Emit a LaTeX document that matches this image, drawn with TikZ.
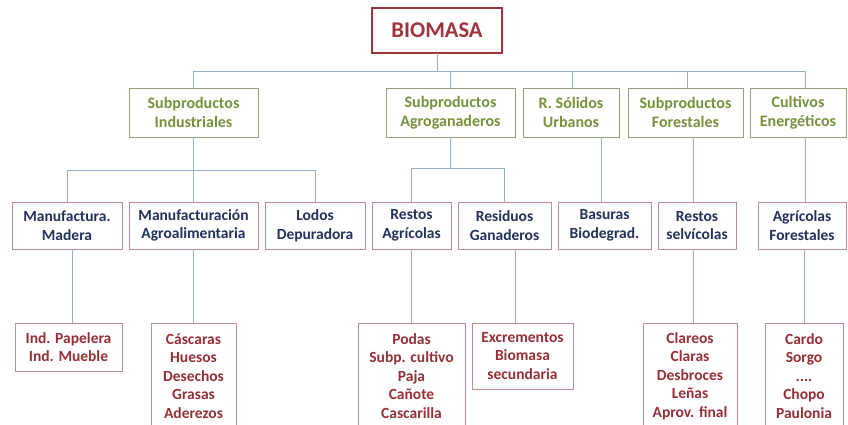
\documentclass[tikz,border=0pt]{standalone}
\usepackage{fontspec}
\setmainfont{Carlito}
\definecolor{bioc}{RGB}{160,50,60}
\definecolor{lonetext}{RGB}{118,146,60}
\definecolor{loneborder}{RGB}{150,160,125}
\definecolor{ltwotext}{RGB}{35,50,90}
\definecolor{redborder}{RGB}{192,140,145}
\definecolor{lthreetext}{RGB}{150,48,55}
\definecolor{linkc}{RGB}{150,175,205}
\tikzset{
  boxbase/.style={rectangle, inner sep=0pt, outer sep=0pt, align=center, line width=1pt,
    font=\fontsize{15.5}{18.6}\selectfont\bfseries},
  biobox/.style={boxbase, draw=bioc, text=bioc, line width=2.2pt, font=\fontsize{22.5}{27}\selectfont\bfseries},
  lone/.style={boxbase, draw=loneborder, text=lonetext, font=\fontsize{16}{19.5}\selectfont\bfseries},
  ltwo/.style={boxbase, draw=redborder, text=ltwotext},
  lthree/.style={boxbase, draw=redborder, text=lthreetext},
  link/.style={draw=linkc, line width=1pt}
}
\begin{document}
\begin{tikzpicture}[x=1pt,y=-1pt]
\useasboundingbox (0,0) rectangle (848,424);
\fill[white] (0,0) rectangle (848,424);
\clip (0,0) rectangle (848,424);
% root
\node[biobox, minimum width=130pt, minimum height=45pt] (bio) at (437,30.5) {BIOMASA};
% level 1
\node[lone, minimum width=129pt, minimum height=49pt] (si) at (193.5,112.5) {Subproductos\\Industriales};
\node[lone, minimum width=129pt, minimum height=49pt] (sa) at (450.5,112.5) {Subproductos\\Agroganaderos};
\node[lone, minimum width=96pt, minimum height=49pt] (rs) at (571,112.5) {R. Sólidos\\Urbanos};
\node[lone, minimum width=115pt, minimum height=49pt] (sf) at (685.5,112.5) {Subproductos\\Forestales};
\node[lone, minimum width=96pt, minimum height=49pt] (ce) at (798,112.5) {Cultivos\\Energéticos};
% level 2
\node[ltwo, minimum width=110pt, minimum height=47pt] (mm) at (67,225.5) {Manufactura.\\Madera};
\node[ltwo, minimum width=129pt, minimum height=47pt] (ma) at (193.5,225.5) {Manufacturación\\Agroalimentaria};
\node[ltwo, minimum width=100pt, minimum height=47pt] (ld) at (315,225.5) {Lodos\\Depuradora};
\node[ltwo, minimum width=79pt, minimum height=47pt] (ra) at (411.5,225.5) {Restos\\Agrícolas};
\node[ltwo, minimum width=93pt, minimum height=47pt] (rg) at (504.5,225.5) {Residuos\\Ganaderos};
\node[ltwo, minimum width=93pt, minimum height=47pt] (bb) at (604.5,225.5) {Basuras\\Biodegrad.};
\node[ltwo, minimum width=78pt, minimum height=47pt] (rv) at (697,225.5) {Restos\\selvícolas};
\node[ltwo, minimum width=88pt, minimum height=47pt] (af) at (802,225.5) {Agrícolas\\Forestales};
% level 3
\node[lthree, minimum width=107pt, minimum height=48pt] (ip) at (68.5,347) {Ind. Papelera\\Ind. Mueble};
\node[lthree, minimum width=85pt, minimum height=106pt] (cs) at (193.5,376) {Cáscaras\\Huesos\\Desechos\\Grasas\\Aderezos};
\node[lthree, minimum width=107pt, minimum height=106pt] (po) at (411.5,376) {Podas\\Subp. cultivo\\Paja\\Cañote\\Cascarilla};
\node[lthree, minimum width=101pt, minimum height=66pt] (ex) at (522.5,356) {Excrementos\\Biomasa\\secundaria};
\node[lthree, minimum width=94pt, minimum height=106pt] (cl) at (690,376) {Clareos\\Claras\\Desbroces\\Leñas\\Aprov. final};
\node[lthree, minimum width=78pt, minimum height=106pt] (ca) at (804,376) {Cardo\\Sorgo\\....\\Chopo\\Paulonia};
% bus coordinates
\coordinate (b0) at (0,71);
\coordinate (b1) at (0,170);
\coordinate (b2) at (0,168);
\coordinate (ceTop) at ([xshift=7pt]ce.north);
\coordinate (rsTop) at ([xshift=1pt]rs.north);
\coordinate (sfTop) at ([xshift=1.5pt]sf.north);
% root to level 1
\draw[link] (bio.south) -- (bio.south |- b0);
\draw[link] (si.north) -- (si.north |- b0) -- (ceTop |- b0) -- (ceTop);
\draw[link] (sa.north) -- (sa.north |- b0);
\draw[link] (rsTop) -- (rsTop |- b0);
\draw[link] (sfTop) -- (sfTop |- b0);
% level 1 to level 2
\draw[link] (si.south) -- (ma.north);
\draw[link] (mm.north) -- (mm.north |- b1) -- (ld.north |- b1) -- (ld.north);
\draw[link] (sa.south) -- (sa.south |- b2);
\draw[link] (ra.north) -- (ra.north |- b2) -- (rg.north |- b2) -- (rg.north);
\draw[link] ([xshift=30pt]rs.south) -- ([xshift=-3.5pt]bb.north);
\draw[link] ([xshift=7.5pt]sf.south) -- ([xshift=-4pt]rv.north);
\draw[link] ([xshift=7pt]ce.south) -- ([xshift=3pt]af.north);
% level 2 to level 3
\draw[link] ([xshift=5pt]mm.south) -- ([xshift=3.5pt]ip.north);
\draw[link] (ma.south) -- (cs.north);
\draw[link] (ra.south) -- (po.north);
\draw[link] ([xshift=10.5pt]rg.south) -- ([xshift=-7.5pt]ex.north);
\draw[link] ([xshift=-4pt]rv.south) -- ([xshift=3pt]cl.north);
\draw[link] ([xshift=2pt]af.south) -- (ca.north);
\end{tikzpicture}
\end{document}
